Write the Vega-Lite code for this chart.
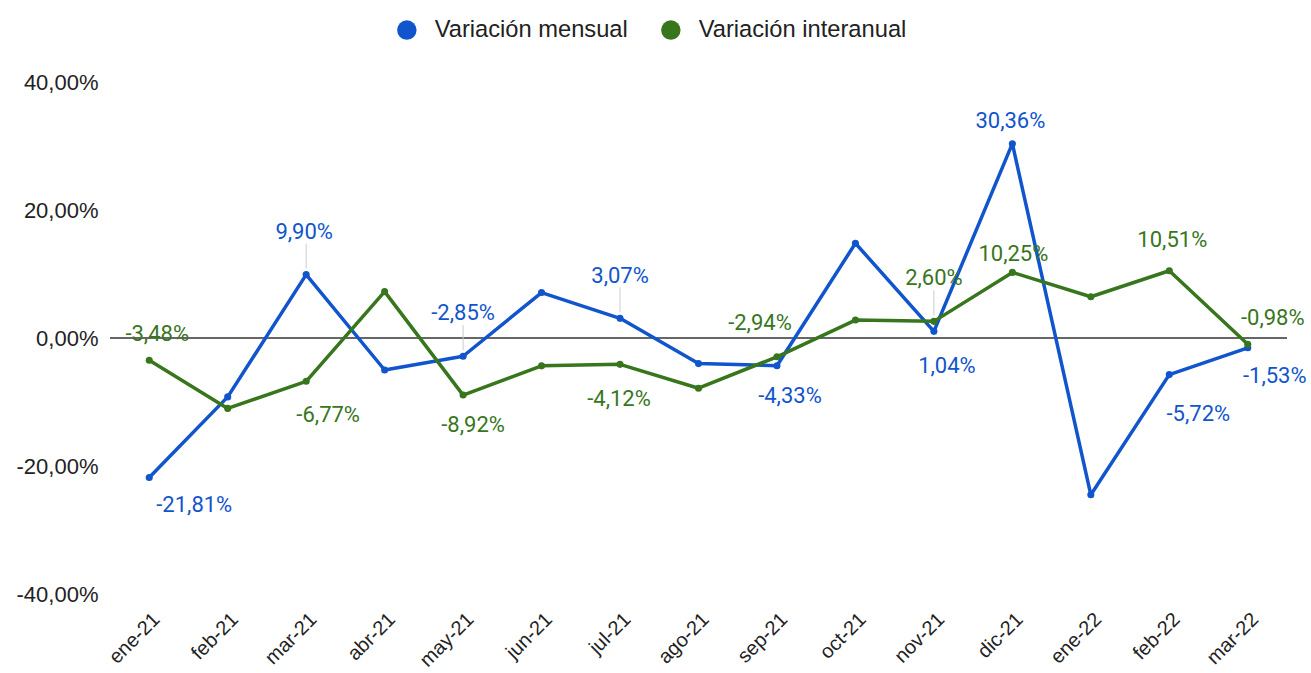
{
  "$schema": "https://vega.github.io/schema/vega-lite/v6.json",
  "width": 1177,
  "height": 512,
  "autosize": {"type": "none"},
  "padding": {"left": 110, "top": 82, "right": 24, "bottom": 79},
  "background": "white",
  "config": {
    "view": {"stroke": null},
    "locale": {"number": {"decimal": ",", "thousands": ".", "grouping": [3], "currency": ["", " €"], "minus": "-"}}
  },
  "data": {
    "values": [
      {"mes": "ene-21", "serie": "Variación mensual", "valor": -0.2181},
      {"mes": "feb-21", "serie": "Variación mensual", "valor": -0.092},
      {"mes": "mar-21", "serie": "Variación mensual", "valor": 0.099},
      {"mes": "abr-21", "serie": "Variación mensual", "valor": -0.05},
      {"mes": "may-21", "serie": "Variación mensual", "valor": -0.0285},
      {"mes": "jun-21", "serie": "Variación mensual", "valor": 0.071},
      {"mes": "jul-21", "serie": "Variación mensual", "valor": 0.0307},
      {"mes": "ago-21", "serie": "Variación mensual", "valor": -0.040},
      {"mes": "sep-21", "serie": "Variación mensual", "valor": -0.0433},
      {"mes": "oct-21", "serie": "Variación mensual", "valor": 0.148},
      {"mes": "nov-21", "serie": "Variación mensual", "valor": 0.0104},
      {"mes": "dic-21", "serie": "Variación mensual", "valor": 0.3036},
      {"mes": "ene-22", "serie": "Variación mensual", "valor": -0.245},
      {"mes": "feb-22", "serie": "Variación mensual", "valor": -0.0572},
      {"mes": "mar-22", "serie": "Variación mensual", "valor": -0.0153},
      {"mes": "ene-21", "serie": "Variación interanual", "valor": -0.0348},
      {"mes": "feb-21", "serie": "Variación interanual", "valor": -0.110},
      {"mes": "mar-21", "serie": "Variación interanual", "valor": -0.0677},
      {"mes": "abr-21", "serie": "Variación interanual", "valor": 0.0725},
      {"mes": "may-21", "serie": "Variación interanual", "valor": -0.0892},
      {"mes": "jun-21", "serie": "Variación interanual", "valor": -0.0435},
      {"mes": "jul-21", "serie": "Variación interanual", "valor": -0.0412},
      {"mes": "ago-21", "serie": "Variación interanual", "valor": -0.0785},
      {"mes": "sep-21", "serie": "Variación interanual", "valor": -0.0294},
      {"mes": "oct-21", "serie": "Variación interanual", "valor": 0.028},
      {"mes": "nov-21", "serie": "Variación interanual", "valor": 0.026},
      {"mes": "dic-21", "serie": "Variación interanual", "valor": 0.1025},
      {"mes": "ene-22", "serie": "Variación interanual", "valor": 0.0645},
      {"mes": "feb-22", "serie": "Variación interanual", "valor": 0.1051},
      {"mes": "mar-22", "serie": "Variación interanual", "valor": -0.0098}
    ]
  },
  "layer": [
    {
      "data": {"values": [{}]},
      "mark": {"type": "rule", "color": "#333333", "strokeWidth": 1.3},
      "encoding": {"y": {"datum": 0, "type": "quantitative", "scale": {"domain": [-0.4, 0.4], "nice": false}}}
    },
    {
      "encoding": {
        "x": {
          "field": "mes", "type": "ordinal", "sort": null,
          "scale": {"type": "point", "padding": 0.5},
          "axis": {"title": null, "domain": false, "ticks": false, "grid": false, "labelAngle": -45, "labelAlign": "right", "labelBaseline": "middle", "labelPadding": 22, "labelOffset": 7, "labelFont": "Liberation Sans", "labelFontSize": 20, "labelColor": "#222222"}
        },
        "y": {
          "field": "valor", "type": "quantitative",
          "scale": {"domain": [-0.4, 0.4], "nice": false},
          "axis": {"title": null, "domain": false, "ticks": false, "grid": false, "values": [-0.4, -0.2, 0, 0.2, 0.4], "format": ".2%", "labelPadding": 12, "labelFont": "Liberation Sans", "labelFontSize": 22, "labelColor": "#222222"}
        }
      },
      "layer": [
        {
          "mark": {"type": "line", "strokeWidth": 3.5, "strokeJoin": "round", "strokeCap": "round"},
          "encoding": {"stroke": {"field": "serie", "type": "nominal", "scale": {"domain": ["Variación mensual", "Variación interanual"], "range": ["#1155cc", "#38761d"]},
            "legend": {"orient": "none", "legendX": 285, "legendY": -64, "direction": "horizontal", "title": null, "symbolType": "circle", "symbolSize": 380, "symbolOpacity": 1, "symbolStrokeWidth": 0, "labelFont": "Liberation Sans", "labelFontSize": 23.7, "labelColor": "#222222", "labelOffset": 16, "labelLimit": 400, "columnPadding": 31}}}
        },
        {
          "mark": {"type": "circle", "size": 50, "opacity": 1},
          "encoding": {"color": {"field": "serie", "type": "nominal", "scale": {"domain": ["Variación mensual", "Variación interanual"], "range": ["#1155cc", "#38761d"]},
            "legend": {"orient": "none", "legendX": 285, "legendY": -64, "direction": "horizontal", "title": null, "symbolType": "circle", "symbolSize": 380, "symbolOpacity": 1, "symbolStrokeWidth": 0, "labelFont": "Liberation Sans", "labelFontSize": 23.7, "labelColor": "#222222", "labelOffset": 16, "labelLimit": 400, "columnPadding": 31}}}
        },
        {
          "transform": [{"filter": "(datum.serie == 'Variación mensual' && indexof(['mar-21','may-21','jul-21'], datum.mes) >= 0) || (datum.serie == 'Variación interanual' && datum.mes == 'nov-21')"}],
          "mark": {"type": "rule", "color": "#cccccc", "strokeWidth": 1, "yOffset": -6, "y2Offset": -31},
          "encoding": {"y2": {"field": "valor"}}
        },
        {"transform": [{"filter": "datum.serie == 'Variación mensual' && datum.mes == 'ene-21'"}], "mark": {"type": "text", "dx": 45, "dy": 27, "font": "Roboto", "fontSize": 22, "baseline": "middle", "color": "#1155cc"}, "encoding": {"text": {"field": "valor", "type": "quantitative", "format": ".2%"}}},
        {"transform": [{"filter": "datum.serie == 'Variación mensual' && datum.mes == 'mar-21'"}], "mark": {"type": "text", "dx": -2, "dy": -43, "font": "Roboto", "fontSize": 22, "baseline": "middle", "color": "#1155cc"}, "encoding": {"text": {"field": "valor", "type": "quantitative", "format": ".2%"}}},
        {"transform": [{"filter": "datum.serie == 'Variación mensual' && datum.mes == 'may-21'"}], "mark": {"type": "text", "dx": 0, "dy": -43, "font": "Roboto", "fontSize": 22, "baseline": "middle", "color": "#1155cc"}, "encoding": {"text": {"field": "valor", "type": "quantitative", "format": ".2%"}}},
        {"transform": [{"filter": "datum.serie == 'Variación mensual' && datum.mes == 'jul-21'"}], "mark": {"type": "text", "dx": 0, "dy": -42, "font": "Roboto", "fontSize": 22, "baseline": "middle", "color": "#1155cc"}, "encoding": {"text": {"field": "valor", "type": "quantitative", "format": ".2%"}}},
        {"transform": [{"filter": "datum.serie == 'Variación mensual' && datum.mes == 'sep-21'"}], "mark": {"type": "text", "dx": 13, "dy": 30, "font": "Roboto", "fontSize": 22, "baseline": "middle", "color": "#1155cc"}, "encoding": {"text": {"field": "valor", "type": "quantitative", "format": ".2%"}}},
        {"transform": [{"filter": "datum.serie == 'Variación mensual' && datum.mes == 'nov-21'"}], "mark": {"type": "text", "dx": 13, "dy": 35, "font": "Roboto", "fontSize": 22, "baseline": "middle", "color": "#1155cc"}, "encoding": {"text": {"field": "valor", "type": "quantitative", "format": ".2%"}}},
        {"transform": [{"filter": "datum.serie == 'Variación mensual' && datum.mes == 'dic-21'"}], "mark": {"type": "text", "dx": -2, "dy": -23, "font": "Roboto", "fontSize": 22, "baseline": "middle", "color": "#1155cc"}, "encoding": {"text": {"field": "valor", "type": "quantitative", "format": ".2%"}}},
        {"transform": [{"filter": "datum.serie == 'Variación mensual' && datum.mes == 'feb-22'"}], "mark": {"type": "text", "dx": 29, "dy": 39, "font": "Roboto", "fontSize": 22, "baseline": "middle", "color": "#1155cc"}, "encoding": {"text": {"field": "valor", "type": "quantitative", "format": ".2%"}}},
        {"transform": [{"filter": "datum.serie == 'Variación mensual' && datum.mes == 'mar-22'"}], "mark": {"type": "text", "dx": 27, "dy": 28, "font": "Roboto", "fontSize": 22, "baseline": "middle", "color": "#1155cc"}, "encoding": {"text": {"field": "valor", "type": "quantitative", "format": ".2%"}}},
        {"transform": [{"filter": "datum.serie == 'Variación interanual' && datum.mes == 'ene-21'"}], "mark": {"type": "text", "dx": 8, "dy": -26, "font": "Roboto", "fontSize": 22, "baseline": "middle", "color": "#38761d"}, "encoding": {"text": {"field": "valor", "type": "quantitative", "format": ".2%"}}},
        {"transform": [{"filter": "datum.serie == 'Variación interanual' && datum.mes == 'mar-21'"}], "mark": {"type": "text", "dx": 22, "dy": 34, "font": "Roboto", "fontSize": 22, "baseline": "middle", "color": "#38761d"}, "encoding": {"text": {"field": "valor", "type": "quantitative", "format": ".2%"}}},
        {"transform": [{"filter": "datum.serie == 'Variación interanual' && datum.mes == 'may-21'"}], "mark": {"type": "text", "dx": 10, "dy": 30, "font": "Roboto", "fontSize": 22, "baseline": "middle", "color": "#38761d"}, "encoding": {"text": {"field": "valor", "type": "quantitative", "format": ".2%"}}},
        {"transform": [{"filter": "datum.serie == 'Variación interanual' && datum.mes == 'jul-21'"}], "mark": {"type": "text", "dx": -1, "dy": 35, "font": "Roboto", "fontSize": 22, "baseline": "middle", "color": "#38761d"}, "encoding": {"text": {"field": "valor", "type": "quantitative", "format": ".2%"}}},
        {"transform": [{"filter": "datum.serie == 'Variación interanual' && datum.mes == 'sep-21'"}], "mark": {"type": "text", "dx": -17, "dy": -34, "font": "Roboto", "fontSize": 22, "baseline": "middle", "color": "#38761d"}, "encoding": {"text": {"field": "valor", "type": "quantitative", "format": ".2%"}}},
        {"transform": [{"filter": "datum.serie == 'Variación interanual' && datum.mes == 'nov-21'"}], "mark": {"type": "text", "dx": 0, "dy": -43, "font": "Roboto", "fontSize": 22, "baseline": "middle", "color": "#38761d"}, "encoding": {"text": {"field": "valor", "type": "quantitative", "format": ".2%"}}},
        {"transform": [{"filter": "datum.serie == 'Variación interanual' && datum.mes == 'dic-21'"}], "mark": {"type": "text", "dx": 1, "dy": -18, "font": "Roboto", "fontSize": 22, "baseline": "middle", "color": "#38761d"}, "encoding": {"text": {"field": "valor", "type": "quantitative", "format": ".2%"}}},
        {"transform": [{"filter": "datum.serie == 'Variación interanual' && datum.mes == 'feb-22'"}], "mark": {"type": "text", "dx": 3, "dy": -31, "font": "Roboto", "fontSize": 22, "baseline": "middle", "color": "#38761d"}, "encoding": {"text": {"field": "valor", "type": "quantitative", "format": ".2%"}}},
        {"transform": [{"filter": "datum.serie == 'Variación interanual' && datum.mes == 'mar-22'"}], "mark": {"type": "text", "dx": 25, "dy": -26, "font": "Roboto", "fontSize": 22, "baseline": "middle", "color": "#38761d"}, "encoding": {"text": {"field": "valor", "type": "quantitative", "format": ".2%"}}}
      ]
    }
  ]
}
